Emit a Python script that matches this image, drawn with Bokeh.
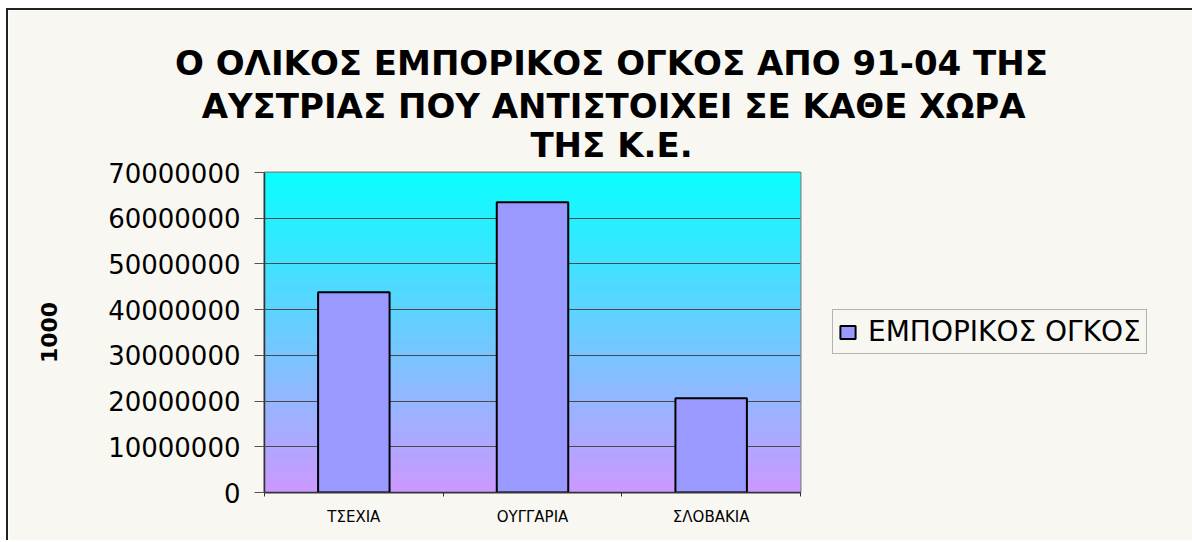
import numpy as np
from bokeh.plotting import figure
from bokeh.models import (FactorRange, Range1d, LinearAxis, CategoricalAxis, FixedTicker,
                          BasicTickFormatter, BoxAnnotation, Title, Legend, LegendItem)
from bokeh.embed import file_html
from bokeh.resources import INLINE

# ---------------- data ----------------
title_lines = [
    "Ο ΟΛΙΚΟΣ ΕΜΠΟΡΙΚΟΣ ΟΓΚΟΣ ΑΠΟ 91-04 ΤΗΣ",
    "ΑΥΣΤΡΙΑΣ ΠΟΥ ΑΝΤΙΣΤΟΙΧΕΙ ΣΕ ΚΑΘΕ ΧΩΡΑ",
    "ΤΗΣ Κ.Ε.",
]
countries = ["ΤΣΕΧΙΑ", "ΟΥΓΓΑΡΙΑ", "ΣΛΟΒΑΚΙΑ"]
trade_volume = [43800000, 63500000, 20600000]
series_name = "ΕΜΠΟΡΙΚΟΣ ΟΓΚΟΣ"
y_ticks = [0, 10000000, 20000000, 30000000, 40000000, 50000000, 60000000, 70000000]
y_axis_label = "1000"

# ---------------- style ----------------
BG = "#f8f7f2"
TOP_RGB = np.array([8, 255, 255])
BOTTOM_RGB = np.array([204, 152, 255])
FONT = "DejaVu Sans"
TITLE_PX = 34
FRAME_W, FRAME_H = 536, 320
TITLE_CENTER = 347  # px right of frame's left edge
TITLE_STANDOFFS = [22, -20, 15]  # line 1, line 2, line 3

# approximate DejaVu Sans Bold advance widths (em) to centre title lines
_W = {"Ο": .850, " ": .348, "Λ": .774, "Ι": .372, "Κ": .776, "Σ": .683, "Ε": .683,
      "Μ": .995, "Π": .837, "Ρ": .733, "Γ": .637, "Α": .774, "Τ": .682, "Η": .837,
      "Υ": .724, "Χ": .770, "Θ": .850, "Ω": .870, ".": .380, "-": .416}


def text_width(s, px):
    return sum(_W.get(ch, .696) for ch in s) * px


y_min, y_max = y_ticks[0], y_ticks[-1]

p = figure(
    x_range=FactorRange(*countries),
    y_range=Range1d(y_min, y_max),
    frame_width=FRAME_W, frame_height=FRAME_H,
    min_border_left=256, min_border_right=392,
    min_border_top=162, min_border_bottom=48,
    output_backend="svg", toolbar_location=None,
    x_axis_location=None,
    background_fill_color=BG, border_fill_color=BG,
    outline_line_color="#808080", outline_line_width=2,
)
p.styles = {"margin-left": "6px", "margin-top": "8px",
            "border-left": "2px solid #222222", "border-top": "2px solid #222222"}

# gradient background of plot area
n_bands = 80
edges = np.linspace(y_min, y_max, n_bands + 1)
step = edges[1] - edges[0]
for i in range(n_bands):
    t = (i + 0.5) / n_bands
    rgb = BOTTOM_RGB + (TOP_RGB - BOTTOM_RGB) * t
    col = "#%02x%02x%02x" % tuple(int(round(c)) for c in rgb)
    p.add_layout(BoxAnnotation(bottom=edges[i], top=min(edges[i + 1] + 0.6 * step, y_max),
                               fill_color=col, fill_alpha=1.0,
                               line_color=None, level="image"))

# grid
p.xgrid.grid_line_color = None
p.ygrid.ticker = FixedTicker(ticks=y_ticks)
p.ygrid.grid_line_color = "#4a4a4a"
p.ygrid.grid_line_width = 1

# y axis
yax = p.yaxis[0]
yax.ticker = FixedTicker(ticks=y_ticks)
yax.formatter = BasicTickFormatter(use_scientific=False)
yax.axis_line_color = "#333333"
yax.axis_line_width = 1.5
yax.major_tick_line_color = "#555555"
yax.major_tick_out = 10
yax.major_tick_in = 0
yax.minor_tick_line_color = None
yax.major_label_standoff = 14
yax.major_label_text_font = FONT
yax.major_label_text_font_size = "26px"
yax.major_label_text_color = "black"
yax.axis_label = y_axis_label
yax.axis_label_text_font = FONT
yax.axis_label_text_font_style = "bold"
yax.axis_label_text_font_size = "22px"
yax.axis_label_text_color = "black"
yax.axis_label_standoff = 48

# x axis: ticks at category boundaries + category labels
bounds = list(range(len(countries) + 1))
tick_axis = LinearAxis(ticker=FixedTicker(ticks=bounds),
                       major_label_overrides={b: "" for b in bounds},
                       major_label_text_font_size="1px", major_label_standoff=0,
                       major_tick_in=0, major_tick_out=4,
                       major_tick_line_color="#333333",
                       minor_tick_line_color=None,
                       axis_line_color="#333333", axis_line_width=1.5)
p.add_layout(tick_axis, "below")
cat_axis = CategoricalAxis(axis_line_color=None, major_tick_line_color=None,
                           major_tick_in=0, major_tick_out=0,
                           major_label_standoff=11,
                           major_label_text_font=FONT,
                           major_label_text_font_size="15px",
                           major_label_text_color="black")
p.add_layout(cat_axis, "below")

# bars
bars = p.vbar(x=countries, top=trade_volume, width=0.4, bottom=0,
              fill_color="#9999ff", line_color="black", line_width=2)

leg = Legend(items=[LegendItem(label=series_name, renderers=[bars])],
             location=(32, 138), orientation="vertical",
             padding=5, margin=0, spacing=0, glyph_width=19, glyph_height=16,
             label_standoff=11, label_text_font=FONT, label_text_font_size="28px",
             label_text_color="black", background_fill_color=BG,
             background_fill_alpha=1.0, border_line_color="#707070",
             border_line_width=1.5)
p.add_layout(leg, "right")

# title: three lines, stacked upward from the frame (last line first)
for txt, so in reversed(list(zip(title_lines, TITLE_STANDOFFS))):
    w = text_width(txt, TITLE_PX)
    p.add_layout(Title(text=txt, align="left", offset=TITLE_CENTER - w / 2,
                       text_font=FONT, text_font_style="bold",
                       text_font_size="%dpx" % TITLE_PX, text_color="black",
                       standoff=so), "above")

open("out.html", "w").write(file_html(p, INLINE))
